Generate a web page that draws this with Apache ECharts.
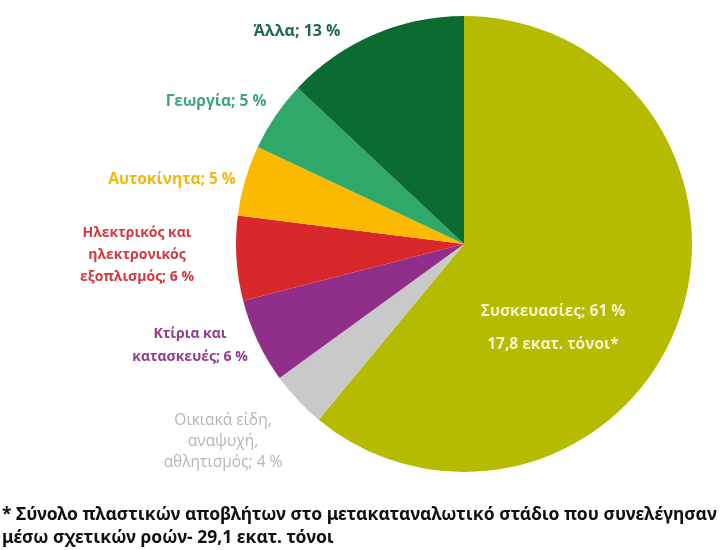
<!DOCTYPE html>
<html><head><meta charset="utf-8">
<script src="https://cdn.jsdelivr.net/npm/echarts@6/dist/echarts.min.js"></script>
<style>html,body{margin:0;padding:0;background:#fff}#c{width:722px;height:550px}</style>
</head><body><div id="c"></div>
<script>
var categories = ['Συσκευασίες', 'Οικιακά είδη,\nαναψυχή,\nαθλητισμός', 'Κτίρια και\nκατασκευές', 'Ηλεκτρικός και\nηλεκτρονικός\nεξοπλισμός', 'Αυτοκίνητα', 'Γεωργία', 'Άλλα'];
var values = [61, 4, 6, 6, 5, 5, 13];
var packagingTonnes = '17,8 εκατ. τόνοι*';
var footnote = ['* Σύνολο πλαστικών αποβλήτων στο μετακαταναλωτικό στάδιο που συνελέγησαν', 'μέσω σχετικών ροών- 29,1 εκατ. τόνοι'];

var sliceColors = ['#b5bb00', '#c9c9c9', '#8f2f89', '#d8282c', '#fbb900', '#2fa86a', '#0b6b31'];
var labelColors = ['#f6f2cc', '#b5b5b5', '#903d8c', '#d3383e', '#f3b80c', '#3fa57c', '#22694b'];
var labelSizes = [15.5, 15.5, 14, 14, 15.5, 15.5, 16];
var labelLH = [33, 21, 23, 22, 20, 20, 20];
var labelPos = [[553, 328], [223, 442], [190, 346], [137, 255], [172, 180], [216, 102], [297, 31]];
var font = 'Open Sans';

var data = categories.map(function (c, i) {
  var txt = i === 0 ? c + '; ' + values[i] + ' %\n' + packagingTonnes : c + '; ' + values[i] + ' %';
  return {
    name: c, value: values[i],
    itemStyle: { color: sliceColors[i] },
    label: {
      show: true,
      position: i === 0 ? 'inside' : 'outside',
      formatter: txt,
      color: labelColors[i],
      fontWeight: i === 1 ? 'normal' : 'bold',
      fontSize: labelSizes[i],
      lineHeight: labelLH[i],
      fontFamily: font,
      align: 'center'
    }
  };
});

var chart = echarts.init(document.getElementById('c'));
chart.setOption({
  animation: false,
  series: [{
    type: 'pie',
    center: [464, 244],
    radius: 228,
    startAngle: 90,
    clockwise: true,
    avoidLabelOverlap: false,
    data: data,
    labelLine: { show: false },
    labelLayout: function (p) {
      var pos = labelPos[p.dataIndex];
      return { x: pos[0], y: pos[1], align: 'center', verticalAlign: 'middle', hideOverlap: false };
    }
  }],
  graphic: [{
    type: 'text', left: 2, top: 504,
    style: { text: footnote.join('\n'), font: 'bold 17.5px "Noto Sans"', lineHeight: 23, fill: '#111' }
  }]
});
</script></body></html>
